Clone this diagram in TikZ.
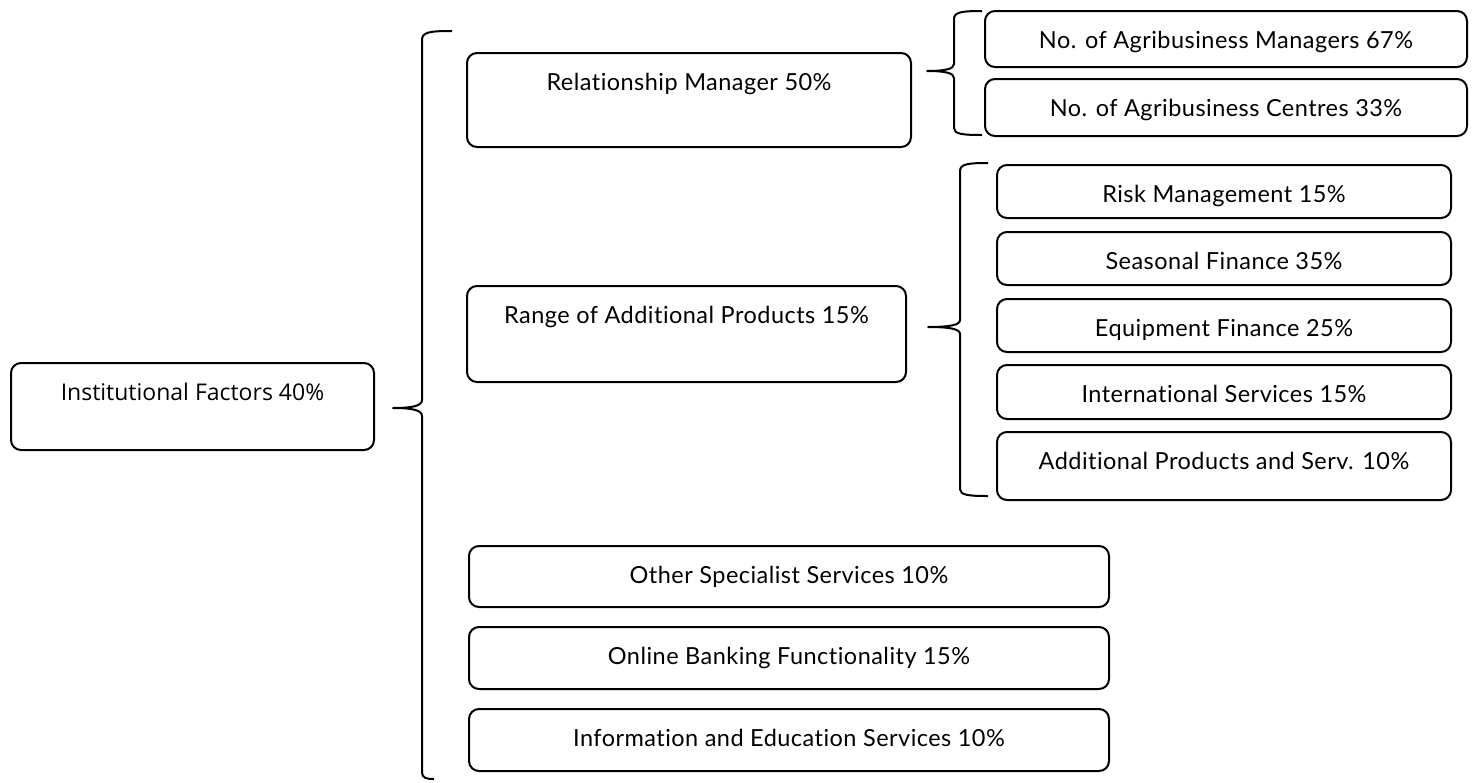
\documentclass[tikz,border=0pt]{standalone}
\usepackage{fontspec}
\setmainfont{Lato}[Ligatures=NoCommon, LetterSpace=2]
\newfontfamily\rootfont{Open Sans}

\tikzset{
  factor/.style={draw, line width=2pt, rounded corners=10pt, inner sep=0pt,
    anchor=north west, align=center, text height=37pt,
    font=\fontsize{23.5}{28}\selectfont},
  rootfactor/.style={factor, font=\rootfont\fontsize{23}{27}\selectfont},
  brace/.style={line width=2pt, line join=round}
}

\begin{document}
\begin{tikzpicture}[x=1pt,y=-1pt]
        \useasboundingbox[fill=white] (0,0) rectangle (1474,782);
        % root
        \node[rootfactor, minimum width=363pt, text depth=50pt] (inst) at (10,362) {Institutional Factors 40\%};
        % second level
        \node[factor, minimum width=444pt, text depth=57pt] (relmgr) at (466,52) {Relationship Manager 50\%};
        \node[factor, minimum width=439pt, text depth=59pt] (range) at (466,285) {Range of Additional Products 15\%};
        \node[factor, minimum width=640pt, text depth=24pt] (other) at (468,545) {Other Specialist Services 10\%};
        \node[factor, minimum width=640pt, text depth=25pt] (online) at (468,626) {Online Banking Functionality 15\%};
        \node[factor, minimum width=640pt, text depth=25pt] (info) at (468,708) {Information and Education Services 10\%};
        % third level
        \node[factor, minimum width=482pt, text depth=19pt] (mgrs) at (984,10) {No. of Agribusiness Managers 67\%};
        \node[factor, minimum width=482pt, text depth=20pt] (ctrs) at (984,78) {No. of Agribusiness Centres 33\%};
        \node[factor, minimum width=454pt, text depth=16pt] (risk) at (996,164) {Risk Management 15\%};
        \node[factor, minimum width=454pt, text depth=16pt] (seas) at (996,231) {Seasonal Finance 35\%};
        \node[factor, minimum width=454pt, text depth=16pt] (equip) at (996,298) {Equipment Finance 25\%};
        \node[factor, minimum width=454pt, text depth=17pt] (intl) at (996,364) {International Services 15\%};
        \node[factor, minimum width=454pt, text depth=31pt] (addl) at (996,431) {Additional Products and Serv. 10\%};
        % braces
        \draw[brace] (452,31) .. controls (430,31) and (422,32) .. (422,40) -- (422,400)
            .. controls (422,406) and (412,408) .. (393,408)
            .. controls (412,408) and (422,410) .. (422,416) -- (422,772)
            .. controls (422,778) and (426,779) .. (434,779);
        \draw[brace] (982,11) .. controls (962,11) and (954,12) .. (954,19) -- (954,64)
            .. controls (954,69) and (945,71) .. (927,71)
            .. controls (945,71) and (954,73) .. (954,78) -- (954,128)
            .. controls (954,134) and (962,135) .. (982,135);
        \draw[brace] (988,163) .. controls (968,163) and (960,164) .. (960,171) -- (960,320)
            .. controls (960,325) and (950,327) .. (928,327)
            .. controls (950,327) and (960,329) .. (960,334) -- (960,489)
            .. controls (960,495) and (968,496) .. (988,496);
    \end{tikzpicture}
\end{document}
